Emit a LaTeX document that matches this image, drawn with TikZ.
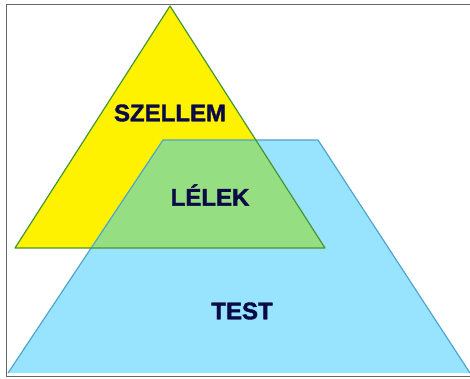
\documentclass[tikz,border=0pt]{standalone}
\usepackage{fontspec}
\setmainfont{Liberation Sans}
\newfontfamily\labelfont[FakeBold=1.6]{Liberation Sans Bold}
\usepackage{tikz}
\definecolor{lelekgreen}{RGB}{150,222,130}
\definecolor{testblue}{RGB}{152,228,255}
\definecolor{testedge}{RGB}{80,165,205}
\definecolor{szellemedge}{RGB}{70,150,50}
\definecolor{labelnavy}{RGB}{10,10,70}

\begin{document}
\begin{tikzpicture}[x=1pt,y=-1pt]
			\tikzstyle{label}= [
				font = \labelfont\fontsize{24}{27}\selectfont,
				text = labelnavy, inner sep = 0pt
			]
			\tikzstyle{edge}=[line join=round,line width=1.2pt]
			\useasboundingbox (0,0) rectangle (470,379);
			\draw[gray!80!black,line width=1pt] (470,4.5) -- (6,4.5) -- (6,376) -- (470,376);
			\coordinate (top) at (170,6);
			\coordinate (tl) at (15,248);
			\coordinate (tr) at (325,248);
			\coordinate (ql) at (163,140);
			\coordinate (qr) at (318,140);
			\coordinate (bl) at (8,373);
			\coordinate (br) at (470,373);
			\fill[testblue] (bl) -- (ql) -- (qr) -- (br) -- cycle;
			\fill[yellow] (top) -- (tl) -- (tr) -- cycle;
			\begin{scope}
				\clip (top) -- (tl) -- (tr) -- cycle;
				\fill[lelekgreen] (bl) -- (ql) -- (qr) -- (br) -- cycle;
			\end{scope}
			\draw[edge,testedge] (bl) -- (ql) -- (qr) -- (br);
			\draw[edge,szellemedge] (top) -- (tl) -- (tr) -- cycle;
			\node[label] (szellem) at (170,113) {SZELLEM};
			\node[label] (lelek) at (210,195) {LÉLEK};
			\node[label] (test) at (242,311) {TEST};
		\end{tikzpicture}
\end{document}
